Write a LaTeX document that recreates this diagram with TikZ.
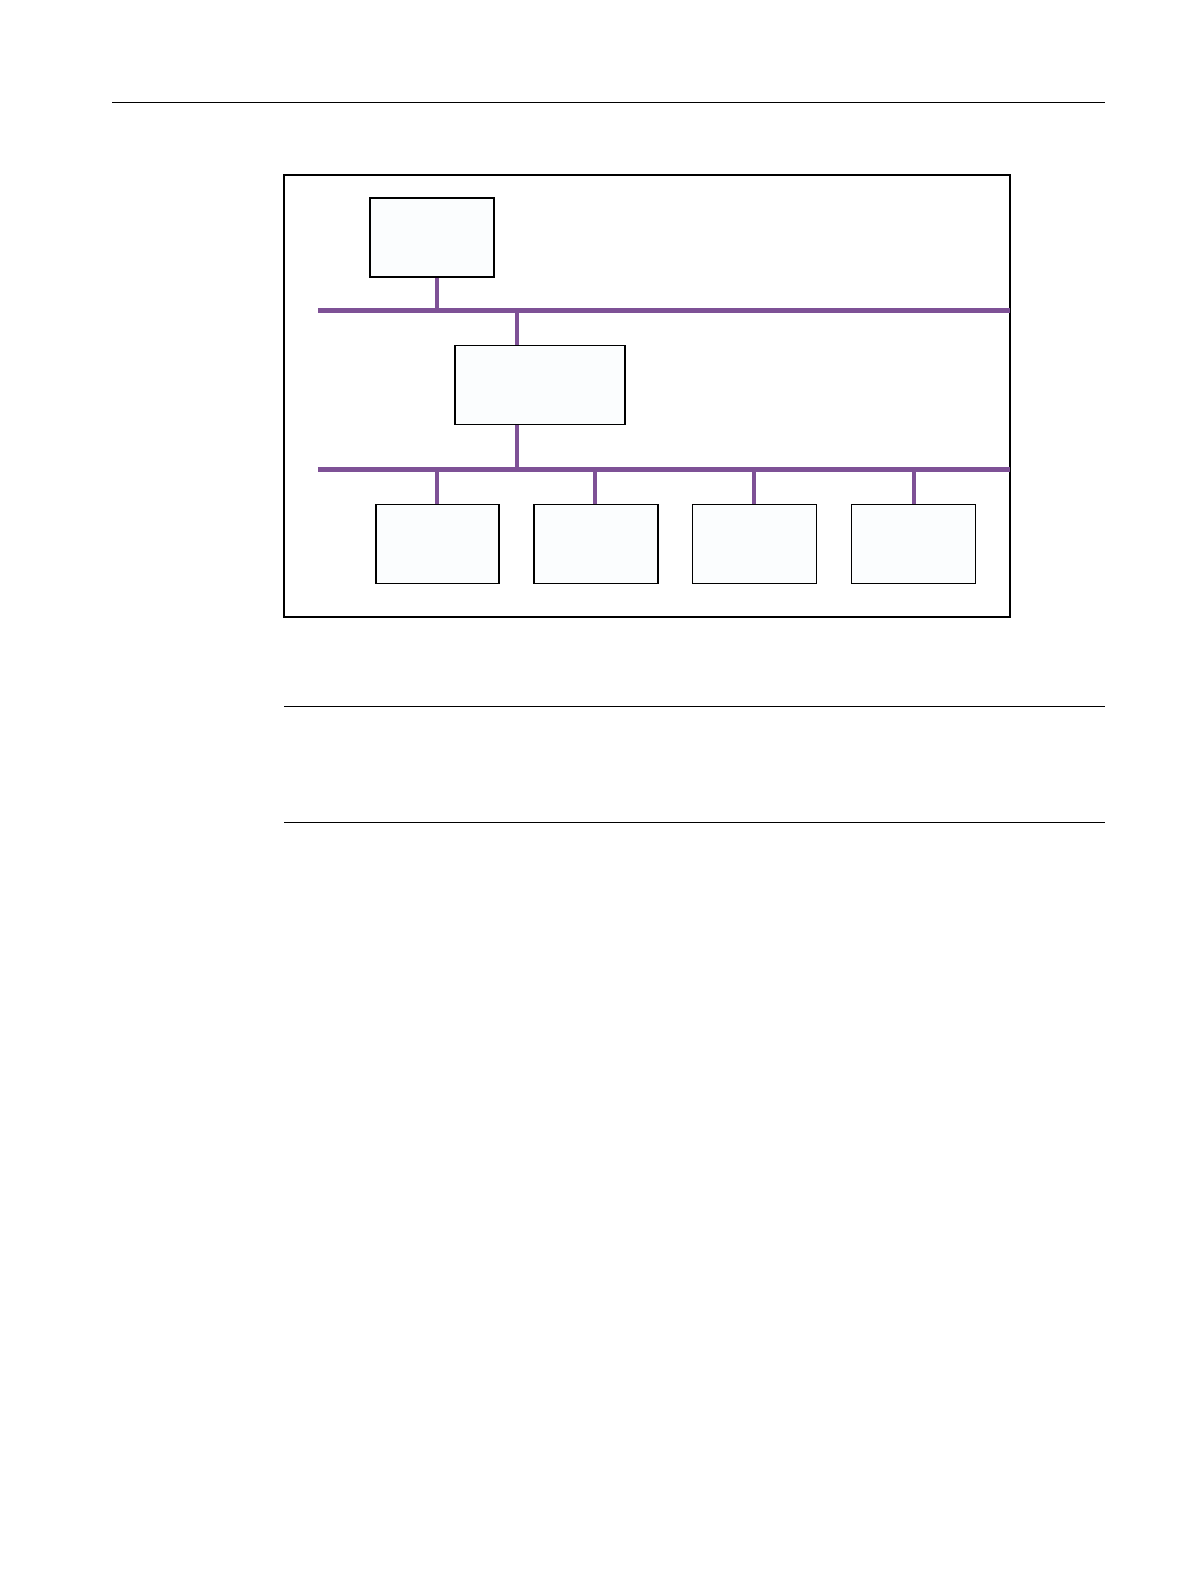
\documentclass[tikz,border=0pt]{standalone}
\usetikzlibrary{calc}
\definecolor{buspurple}{HTML}{7E5196}
\definecolor{boxfill}{HTML}{FBFDFE}
\begin{document}
\begin{tikzpicture}[x=1.012pt,y=-1.012pt,
  unitbox/.style={draw=black,line width=1.2pt,fill=boxfill,inner sep=0pt,anchor=north west},
  busline/.style={draw=buspurple,line width=4.6pt},
  rule/.style={draw=black,line width=1.3pt},
  frame/.style={draw=black,line width=2.2pt}]
\useasboundingbox (0pt,0pt) rectangle (1191pt,-1587pt);
% page rules
\draw[rule] (111,101) -- (1092,101);
\draw[rule] (281,698) -- (1092,698);
\draw[rule] (281,813) -- (1092,813);
% frame
\draw[frame] (281,173) rectangle (998,610);
% buses
\coordinate (b1l) at (314,307);
\coordinate (b1r) at (998,307);
\coordinate (b2l) at (314,464);
\coordinate (b2r) at (998,464);
\draw[busline] (b1l) -- (b1r);
\draw[busline] (b2l) -- (b2r);
% boxes
\node[unitbox,minimum width=124pt,minimum height=79pt] (A) at (365,195) {};
\node[unitbox,minimum width=170pt,minimum height=79pt] (B) at (449,341) {};
\node[unitbox,minimum width=123pt,minimum height=79pt] (C1) at (371,498) {};
\node[unitbox,minimum width=124pt,minimum height=79pt] (C2) at (527,498) {};
\node[unitbox,minimum width=124pt,minimum height=79pt] (C3) at (684,498) {};
\node[unitbox,minimum width=124pt,minimum height=79pt] (C4) at (841,498) {};
% taps
\coordinate (tA) at (432,307);
\coordinate (tB1) at (511,307);
\coordinate (tB2) at (511,464);
\draw[busline] (tA) -- (A.south -| tA);
\draw[busline] (tB1) -- (B.north -| tB1);
\draw[busline] (B.south -| tB2) -- (tB2);
\foreach \n/\x in {C1/432,C2/588,C3/745,C4/903}{
  \coordinate (t\n) at (\x,464);
  \draw[busline] (t\n) -- (\n.north -| t\n);
}
\end{tikzpicture}
\end{document}
